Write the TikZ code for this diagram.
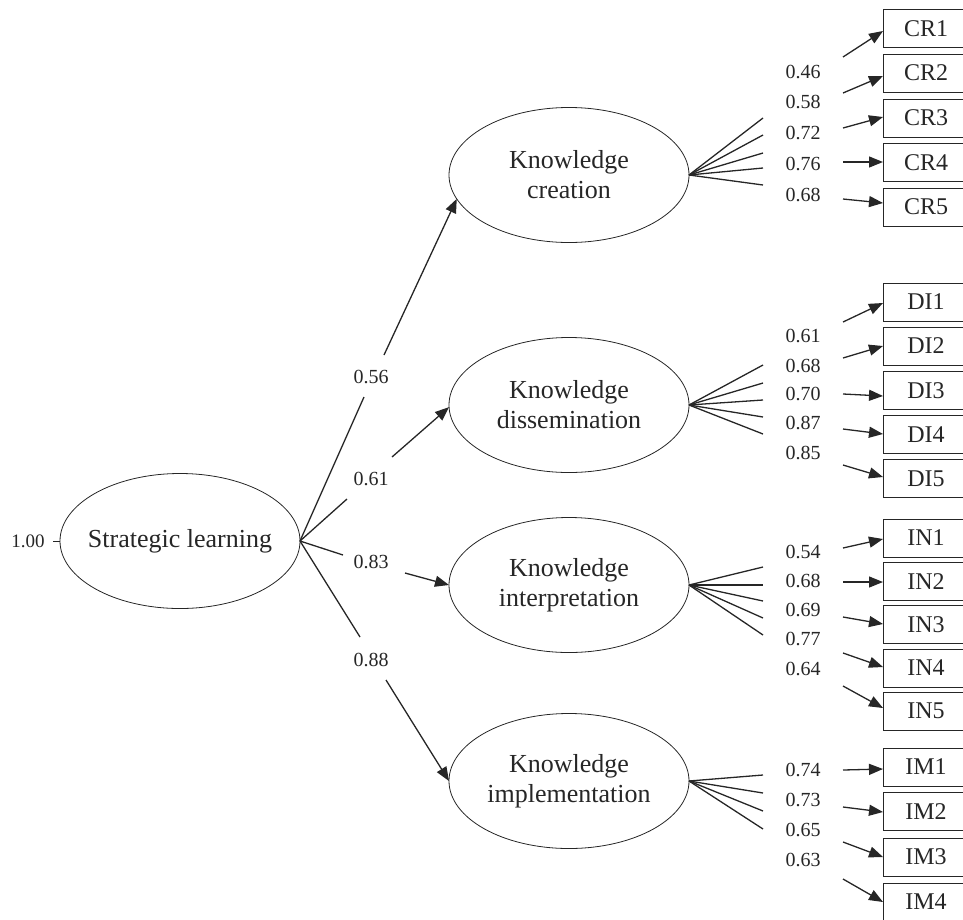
\documentclass[tikz,border=0pt]{standalone}
\usepackage{fontspec}
\setmainfont{Liberation Serif}
\usetikzlibrary{arrows.meta,calc,shapes.geometric}
\begin{document}
\begin{tikzpicture}[x=1pt,y=-1pt,
  every node/.style={text=black!85},
  lat/.style={ellipse,draw=black!85,line width=0.8pt,minimum width=240pt,minimum height=135pt,inner sep=0pt,outer sep=0pt,align=center,font=\fontsize{26}{30}\selectfont},
  obs/.style={rectangle,draw=black!85,line width=0.9pt,minimum width=86pt,minimum height=38pt,inner sep=0pt,outer sep=0pt,font=\fontsize{24}{26}\selectfont},
  lbl/.style={inner sep=0pt,font=\fontsize{20}{22}\selectfont},
  ln/.style={draw=black!85,line width=1.3pt},
  arr/.style={draw=black!85,line width=1.3pt,-{Triangle[length=14pt,width=11pt]}}]
\useasboundingbox (0,0) rectangle (963,919);

% latent variables
\node[lat,inner xsep=-40pt] (SL) at (180,541) {Strategic learning};
\node[lat] (KC) at (569,175) {Knowledge\\creation};
\node[lat] (DS) at (569,405) {Knowledge\\dissemination};
\node[lat] (IP) at (569,585) {Knowledge\\interpretation};
\node[lat] (IM) at (569,781) {Knowledge\\implementation};

% variance of SL
\node[lbl,font=\fontsize{19}{21}\selectfont] (one) at (28,541) {1.00};
\coordinate (tick) at (53,541);
\draw[line width=0.9pt,draw=black!85] (tick) -- (SL.west);

% structural paths
\coordinate (e56) at (364,397); \node[lbl] (l56) at (371,377) {0.56}; \coordinate (s56) at (384,355);
\draw[ln] (SL.east) -- (e56); \draw[arr] (s56) -- (KC.192);
\coordinate (e61) at (347,499); \node[lbl] (l61) at (371,479) {0.61}; \coordinate (s61) at (392,457);
\draw[ln] (SL.east) -- (e61); \draw[arr] (s61) -- (DS.181);
\coordinate (e83) at (343,555); \node[lbl] (l83) at (371,562) {0.83}; \coordinate (s83) at (405,573);
\draw[ln] (SL.east) -- (e83); \draw[arr] (s83) -- (IP.west);
\coordinate (e88) at (360,637); \node[lbl] (l88) at (371,660) {0.88}; \coordinate (s88) at (386,680);
\draw[ln] (SL.east) -- (e88); \draw[arr] (s88) -- (IM.west);

% measurement paths
\foreach \src/\n/\fy/\ly/\lab/\sy/\ey/\cy in {
  KC/CR1/118/72/0.46/57/31/28.5,
  KC/CR2/135/102/0.58/93/76/73,
  KC/CR3/153/133/0.72/128/117/118,
  KC/CR4/168/164/0.76/162/162/162.5,
  KC/CR5/185/195/0.68/199/203/207,
  DS/DI1/365/336/0.61/322/303/302,
  DS/DI2/383/366/0.68/358/346/346,
  DS/DI3/400/394/0.70/394/396/390.5,
  DS/DI4/417/423/0.87/429/434/434.5,
  DS/DI5/434/453/0.85/465/477/478.5,
  IP/IN1/567/552/0.54/548/539/538,
  IP/IN2/585/581/0.68/582/582/581.5,
  IP/IN3/601/610/0.69/617/624/624.5,
  IP/IN4/618/639/0.77/653/667/668,
  IP/IN5/635/669/0.64/686/708/711,
  IM/IM1/775/770/0.74/770/769/767,
  IM/IM2/793/800/0.73/807/812/811.5,
  IM/IM3/811/830/0.65/842/857/857,
  IM/IM4/829/860/0.63/879/902/902}{
  \node[obs] (\n) at (926,\cy) {\n};
  \coordinate (f\n) at (763,\fy);
  \node[lbl] (l\n) at (803,\ly) {\lab};
  \coordinate (s\n) at (843,\sy);
  \draw[ln] (\src.east) -- (f\n);
  \draw[arr] (s\n) -- ($(\n.west)+(0,\ey-\cy)$);
}
\end{tikzpicture}
\end{document}
